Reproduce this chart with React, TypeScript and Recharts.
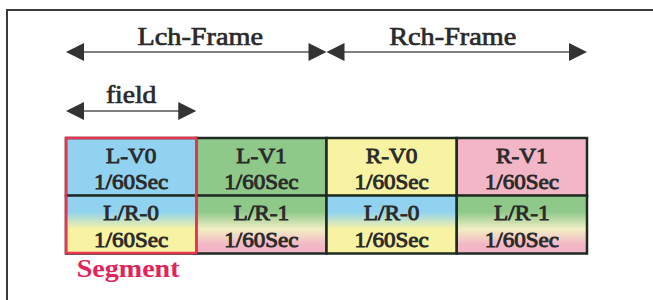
import { BarChart, Bar, XAxis, YAxis, ReferenceArea } from 'recharts'

// rows of the diagram, top to bottom
const rows = ['frame', 'field', 'top', 'bottom']
const slots = ['s0', 's1', 's2', 's3']

const frameNames = ['Lch-Frame', 'Rch-Frame']
const frameFields = [2, 2]
const fieldNames = ['field']
const fieldSpan = [1]
const topNames = ['L-V0', 'L-V1', 'R-V0', 'R-V1']
const bottomNames = ['L/R-0', 'L/R-1', 'L/R-0', 'L/R-1']
const cellFields = [1, 1, 1, 1]
const duration = '1/60Sec'
const segmentName = 'Segment'
const segmentFields = [0, 1]

const BLUE = '#90d2f0'
const GREEN = '#8ec98a'
const YELLOW = '#f8f3a3'
const PINK = '#f3b6c6'
const topFill = [BLUE, GREEN, YELLOW, PINK]
const bottomFill = [
  [BLUE, YELLOW],
  [GREEN, PINK],
  [BLUE, YELLOW],
  [GREEN, PINK],
]
const INK = '#2a2a2a'
const FONT = '"Liberation Serif", "Times New Roman", serif'

const spans: Record<string, { values: number[]; names: string[] }> = {
  frame: { values: frameFields, names: frameNames },
  field: { values: fieldSpan, names: fieldNames },
  top: { values: cellFields, names: topNames },
  bottom: { values: cellFields, names: bottomNames },
}

const data = rows.map((row) => {
  const entry: any = { row, names: spans[row].names }
  slots.forEach((key, i) => {
    entry[key] = spans[row].values[i] ?? 0
  })
  return entry
})

function stretchedText(cx: number, y: number, text: string, size: number, sx: number, extra: any = {}) {
  return (
    <text
      transform={`translate(${cx},${y}) scale(${sx},1)`}
      textAnchor="middle"
      fontFamily={FONT}
      fontSize={size}
      fill={INK}
      {...extra}
    >
      {text}
    </text>
  )
}

function makeShape(slot: number) {
  return (props: any) => {
    const { x, y, width, height, payload } = props
    if (!payload || !width || width <= 0) return <g />
    const row = payload.row
    const name = payload.names[slot]
    if (row === 'frame' || row === 'field') {
      const cy = y + height / 2 + (row === 'field' ? 1.5 : 0)
      const x1 = x
      const x2 = x + width
      const ah = 18
      const hw = 9
      const shift = row === 'frame' ? (slot === 0 ? 4 : -4) : 0
      return (
        <g>
          <line x1={x1 + ah - 2} x2={x2 - ah + 2} y1={cy} y2={cy} stroke="#555" strokeWidth={1.6} />
          <polygon points={`${x1},${cy} ${x1 + ah},${cy - hw} ${x1 + ah},${cy + hw}`} fill="#333" />
          <polygon points={`${x2},${cy} ${x2 - ah},${cy - hw} ${x2 - ah},${cy + hw}`} fill="#333" />
          {row === 'frame'
            ? stretchedText(x1 + width / 2 + shift, cy - 7.5, name, 25, 1.13, { stroke: INK, strokeWidth: 0.7 })
            : stretchedText(x1 + width / 2, cy - 8.5, name, 25, 1.1, { stroke: INK, strokeWidth: 0.7 })}
        </g>
      )
    }
    const id = `grad-${row}-${slot}`
    const fill = row === 'top' ? topFill[slot] : `url(#${id})`
    const [c1, c2] = bottomFill[slot]
    const cx = x + width / 2
    return (
      <g>
        {row === 'bottom' && (
          <defs>
            <linearGradient id={id} x1="0" y1="0" x2="0" y2="1">
              <stop offset="0%" stopColor={c1} />
              <stop offset="28%" stopColor={c1} />
              <stop offset="58%" stopColor={slot % 2 === 1 ? '#f2eec4' : c2} />
              <stop offset="85%" stopColor={c2} />
              <stop offset="100%" stopColor={c2} />
            </linearGradient>
          </defs>
        )}
        <rect x={x} y={y} width={width} height={height} fill={fill} stroke="#1f2a22" strokeWidth={2.5} />
        {stretchedText(cx, y + 24.5, name, 22, 1.06, { stroke: INK, strokeWidth: 0.9 })}
        {stretchedText(cx, y + 51, duration, 22, 1.05, { stroke: INK, strokeWidth: 0.9 })}
      </g>
    )
  }
}

function SegmentShape(props: any) {
  const { x, y, width, height } = props
  if (x == null) return <g />
  return (
    <g>
      <rect x={x} y={y} width={width} height={height} fill="none" stroke="#e8344f" strokeWidth={2.5} />
      {stretchedText(x + width / 2 - 3, y + height + 24, segmentName, 26, 1.08, {
        fill: '#e3245a',
        fontWeight: 'bold',
      })}
    </g>
  )
}

export default function App() {
  return (
    <div style={{ position: 'absolute', left: 0, top: 0, width: 653, height: 300, overflow: 'hidden', background: '#fff' }}>
      <div
        style={{
          position: 'absolute',
          left: 6,
          top: 8.5,
          width: 800,
          height: 400,
          border: '2px solid #3a3a3a',
        }}
      />
      <div style={{ position: 'absolute', left: 0, top: 0 }}>
        <BarChart
          width={653}
          height={300}
          data={data}
          layout="vertical"
          barCategoryGap={0}
          barGap={0}
          margin={{ top: 23, right: 66, bottom: 47, left: 66 }}
        >
          <XAxis type="number" domain={[0, 4]} hide />
          <YAxis type="category" dataKey="row" hide />
          {slots.map((key, i) => (
            <Bar key={key} dataKey={key} stackId="a" isAnimationActive={false} shape={makeShape(i)} />
          ))}
          <ReferenceArea
            x1={segmentFields[0]}
            x2={segmentFields[1]}
            y1="top"
            y2="bottom"
            ifOverflow="visible"
            zIndex={1500}
            shape={SegmentShape}
          />
        </BarChart>
      </div>
    </div>
  )
}
